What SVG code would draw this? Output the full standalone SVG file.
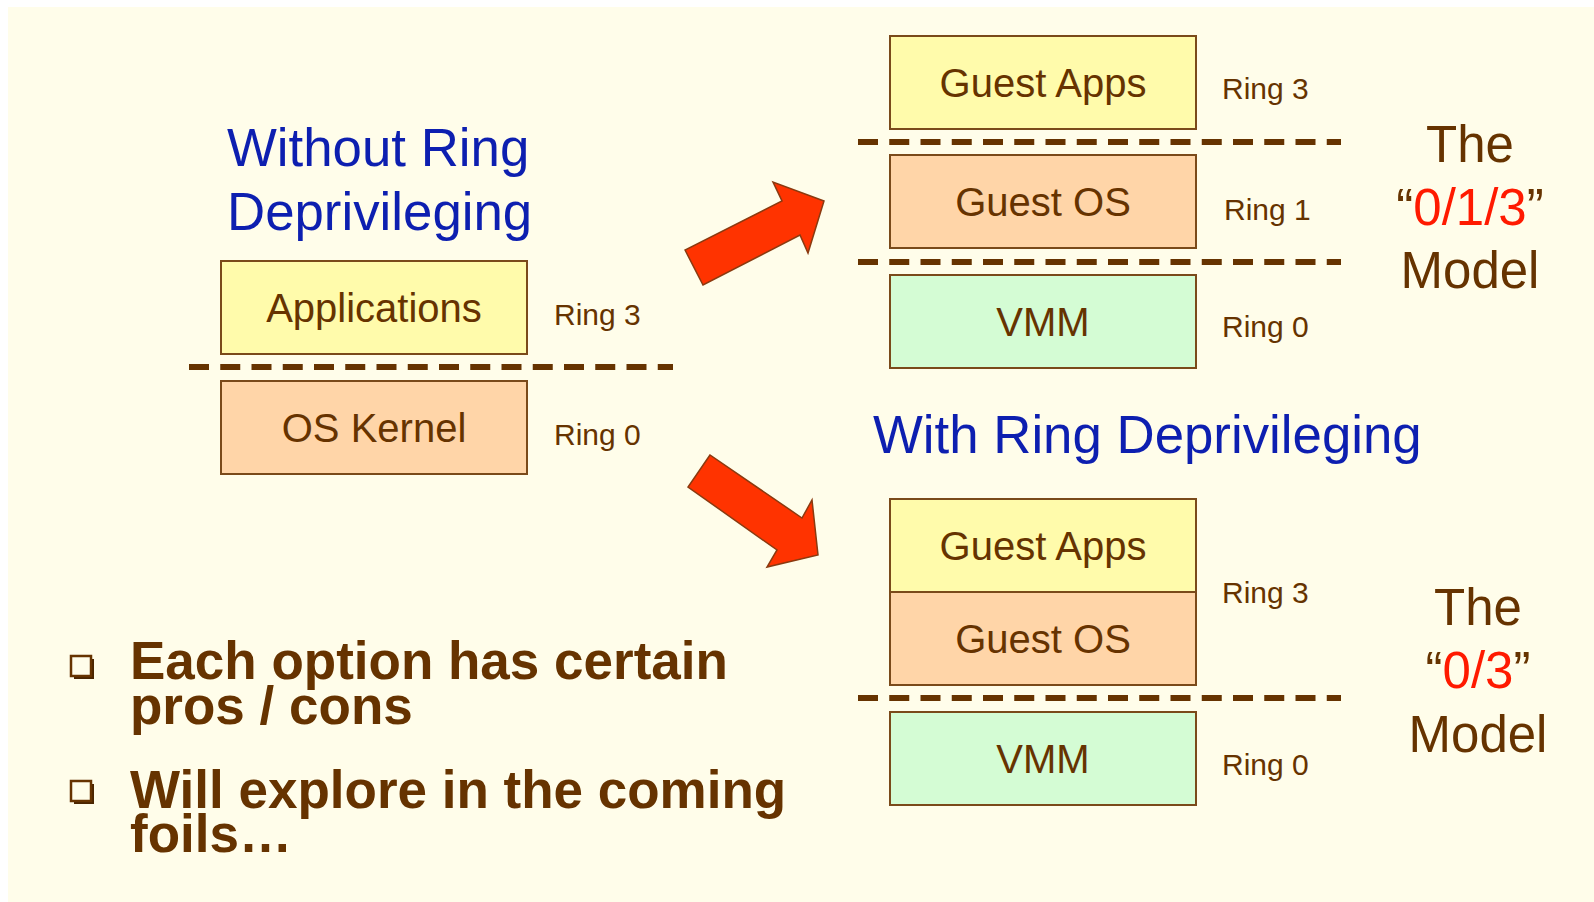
<svg xmlns="http://www.w3.org/2000/svg" width="1594" height="902" viewBox="0 0 1594 902">
<style>
.box{stroke:#7a4a1a;stroke-width:2}
.yel{fill:#fffbab}
.ora{fill:#ffd5a8}
.grn{fill:#d4fcd4}
.bt{font-family:"Liberation Sans",Arial,sans-serif;font-size:40px;fill:#663300;text-anchor:middle}
.ring{font-family:"Liberation Sans",Arial,sans-serif;font-size:30px;fill:#663300}
.head{font-family:"Liberation Sans",Arial,sans-serif;font-size:52.8px;fill:#0d1fb0}
.model{font-family:"Liberation Sans",Arial,sans-serif;font-size:51px;fill:#663300;text-anchor:middle}
.red{fill:#ff1a00}
.bul{font-family:"Liberation Sans",Arial,sans-serif;font-size:53px;font-weight:bold;fill:#663300}
.dash{stroke:#663300;stroke-width:6;stroke-dasharray:20 11.25;fill:none}
.arrow{fill:#ff3300;stroke:#8a3a10;stroke-width:1.5;stroke-linejoin:miter}
.bx{fill:#fffdea;stroke:#663300;stroke-width:2.5}
.bs{fill:#4a2500}
</style>
<rect x="0" y="0" width="1594" height="902" fill="#ffffff"/>
<rect x="8" y="7" width="1586" height="895" fill="#fffdea"/>

<g id="title-left">
<text class="head" x="227" y="166">Without Ring</text>
<text class="head" x="227" y="230">Deprivileging</text>
</g>
<g id="title-right">
<text class="head" x="873" y="453">With Ring Deprivileging</text>
</g>

<g id="applications"><rect class="box yel" x="221" y="261" width="306" height="93"/><text class="bt" x="374" y="322">Applications</text></g>
<g id="os-kernel"><rect class="box ora" x="221" y="381" width="306" height="93"/><text class="bt" x="374" y="442">OS Kernel</text></g>
<g id="ring-left"><text class="ring" x="554" y="325">Ring 3</text><text class="ring" x="554" y="445">Ring 0</text></g>

<g id="guest-apps-1"><rect class="box yel" x="890" y="36" width="306" height="93"/><text class="bt" x="1043" y="97">Guest Apps</text></g>
<g id="guest-os-1"><rect class="box ora" x="890" y="155" width="306" height="93"/><text class="bt" x="1043" y="216">Guest OS</text></g>
<g id="vmm-1"><rect class="box grn" x="890" y="275" width="306" height="93"/><text class="bt" x="1043" y="336">VMM</text></g>
<g id="ring-right-1"><text class="ring" x="1222" y="99">Ring 3</text><text class="ring" x="1224" y="220">Ring 1</text><text class="ring" x="1222" y="337">Ring 0</text></g>
<g id="model-013"><text class="model" x="1470" y="162">The</text><text class="model" x="1470" y="225">“<tspan class="red">0/1/3</tspan>”</text><text class="model" x="1470" y="288">Model</text></g>

<g id="guest-apps-2"><rect class="box yel" x="890" y="499" width="306" height="93"/><text class="bt" x="1043" y="560">Guest Apps</text></g>
<g id="guest-os-2"><rect class="box ora" x="890" y="592" width="306" height="93"/><text class="bt" x="1043" y="653">Guest OS</text></g>
<g id="vmm-2"><rect class="box grn" x="890" y="712" width="306" height="93"/><text class="bt" x="1043" y="773">VMM</text></g>
<g id="ring-right-2"><text class="ring" x="1222" y="603">Ring 3</text><text class="ring" x="1222" y="775">Ring 0</text></g>
<g id="model-03"><text class="model" x="1478" y="625">The</text><text class="model" x="1478" y="688">“<tspan class="red">0/3</tspan>”</text><text class="model" x="1478" y="752">Model</text></g>

<g id="connectors">
<line class="dash" x1="189" y1="367" x2="673" y2="367"/>
<line class="dash" x1="858" y1="142" x2="1341" y2="142"/>
<line class="dash" x1="858" y1="262" x2="1341" y2="262"/>
<line class="dash" x1="858" y1="698" x2="1341" y2="698"/>
<polygon class="arrow" points="685,250 703,285 800,235 808,253 824,201 773,182 782,201"/>
<polygon class="arrow" points="710,455 688,487 777,550 767,567 818,555 812,500 802,518"/>
</g>

<g id="bullets">
<rect class="bs" x="74" y="659" width="20" height="20"/>
<rect class="bx" x="71" y="656" width="20" height="20"/>
<text class="bul" x="130" y="679">Each option has certain</text>
<text class="bul" x="130" y="724">pros / cons</text>
<rect class="bs" x="74" y="784" width="20" height="20"/>
<rect class="bx" x="71" y="781" width="20" height="20"/>
<text class="bul" x="130" y="808">Will explore in the coming</text>
<text class="bul" x="130" y="852">foils…</text>
</g>
</svg>
